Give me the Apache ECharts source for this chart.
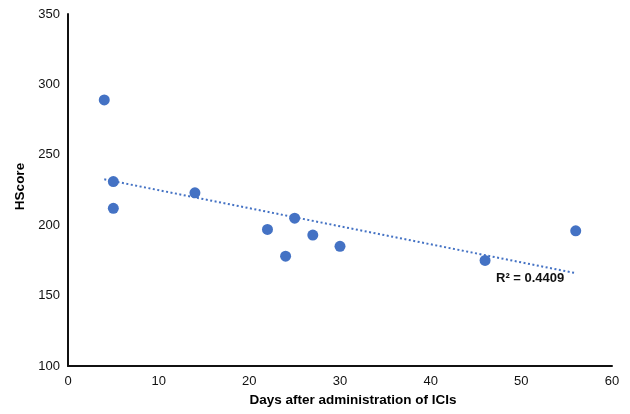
<!DOCTYPE html>
<html>
<head>
<meta charset="utf-8">
<script src="https://cdn.jsdelivr.net/npm/echarts@6/dist/echarts.min.js"></script>
<style>
  html, body { margin: 0; padding: 0; background: #fff; }
  #main { width: 630px; height: 414px; }
</style>
</head>
<body>
<div id="main"></div>
<script>
// days after ICI administration vs HScore
var days = [4, 5, 5, 14, 22, 24, 25, 27, 30, 46, 56];
var hscore = [289, 231, 212, 223, 197, 178, 205, 193, 185, 175, 196];
var yTicks = [100, 150, 200, 250, 300, 350];
var r2Text = 'R\u00b2 = 0.4409';

var blue = '#4472C4';
var font = '"Liberation Sans", Arial, Helvetica, sans-serif';

// least squares trendline from the points
var n = days.length;
var mx = days.reduce((a, b) => a + b, 0) / n;
var my = hscore.reduce((a, b) => a + b, 0) / n;
var sxy = 0, sxx = 0;
days.forEach((x, i) => { sxy += (x - mx) * (hscore[i] - my); sxx += (x - mx) * (x - mx); });
var slope = sxy / sxx;
var icept = my - slope * mx;
var xMin = Math.min.apply(null, days), xMax = Math.max.apply(null, days);
var trend = [[xMin, icept + slope * xMin], [xMax, icept + slope * xMax]];

var chart = echarts.init(document.getElementById('main'));

chart.setOption({
	animation: false,
	grid: { left: 68, right: 18, top: 14, bottom: 48 },
	xAxis: {
		type: 'value',
		min: 0, max: 60, interval: 10,
		name: 'Days after administration of ICIs',
		nameLocation: 'middle',
		nameGap: 27,
		nameTextStyle: { fontFamily: font, fontSize: 13.5, fontWeight: 'bold', color: '#000', padding: [0, 0, 0, 26] },
		axisLine: { show: true, lineStyle: { color: '#111', width: 2 } },
		axisTick: { show: false },
		splitLine: { show: false },
		axisLabel: { margin: 9, fontFamily: font, fontSize: 13, color: '#111' }
	},
	yAxis: {
		type: 'value',
		min: yTicks[0], max: yTicks[yTicks.length - 1], interval: 50,
		name: 'HScore',
		nameLocation: 'middle',
		nameGap: 40,
		nameTextStyle: { fontFamily: font, fontSize: 13.5, fontWeight: 'bold', color: '#000', padding: [0, 0, 0, 7] },
		axisLine: { show: true, lineStyle: { color: '#111', width: 2 } },
		axisTick: { show: false },
		splitLine: { show: false },
		axisLabel: { margin: 8, fontFamily: font, fontSize: 13, color: '#111' }
	},
	series: [{
		type: 'line',
		data: trend,
		symbol: 'none',
		silent: true,
		lineStyle: { color: blue, width: 2, type: [2, 2.5] },
		z: 1
	}, {
		type: 'scatter',
		data: days.map((d, i) => [d, hscore[i]]),
		symbolSize: 11,
		itemStyle: { color: blue, opacity: 1 },
		z: 2
	}],
	graphic: [{
		type: 'text',
		left: 496,
		top: 272,
		style: { text: r2Text, fontFamily: font, fontSize: 13, fontWeight: 'bold', fill: '#111' }
	}]
});
</script>
</body>
</html>
